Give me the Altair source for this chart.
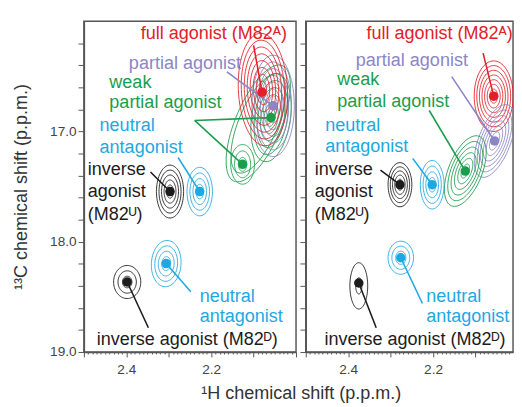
import math
import altair as alt
import pandas as pd

RED = "#e3202a"
PURPLE = "#8b86c6"
GREEN = "#1b9e4b"
CYAN = "#1ea8e2"
BLACK = "#1c1c1c"
FONT = "Liberation Sans"

# ---------------- peak centres (dots): 1H ppm, 13C ppm ----------------
dot_panel = ["A"] * 8 + ["B"] * 7
dot_h = [2.080, 2.054, 2.059, 2.126, 2.227, 2.297, 2.306, 2.398,
         2.057, 2.055, 2.124, 2.202, 2.278, 2.276, 2.375]
dot_c = [16.644, 16.768, 16.874, 17.298, 17.545, 17.545, 18.198, 18.365,
         16.680, 17.086, 17.359, 17.483, 17.483, 18.145, 18.374]
dot_color = [RED, PURPLE, GREEN, GREEN, CYAN, BLACK, CYAN, BLACK,
             RED, PURPLE, GREEN, CYAN, BLACK, CYAN, BLACK]

# ---------------- contour sets (peak shape in ppm) ----------------
ct_panel = ["A"] * 9 + ["B"] * 7
ct_color = [GREEN, GREEN, PURPLE, RED, GREEN, CYAN, BLACK, CYAN, BLACK,
            RED, PURPLE, GREEN, CYAN, BLACK, CYAN, BLACK]
ct_h = [2.089, 2.059, 2.054, 2.078, 2.126, 2.227, 2.297, 2.306, 2.398,
        2.057, 2.055, 2.124, 2.202, 2.278, 2.276, 2.375]
ct_c = [16.927, 16.874, 16.768, 16.620, 17.298, 17.545, 17.545, 18.198, 18.365,
        16.680, 17.086, 17.359, 17.483, 17.483, 18.145, 18.400]
ct_levels = [2, 6, 7, 8, 3, 4, 5, 4, 3,
             7, 6, 6, 4, 5, 3, 2]
ct_half_h = [0.058, 0.046, 0.050, 0.058, 0.028, 0.030, 0.032, 0.035, 0.032,
             0.046, 0.040, 0.042, 0.028, 0.028, 0.030, 0.021]
ct_half_c = [0.53, 0.40, 0.46, 0.51, 0.18, 0.22, 0.24, 0.21, 0.15,
             0.32, 0.33, 0.32, 0.22, 0.20, 0.15, 0.21]
ct_tilt = [0.092, 0.03, 0.0, -0.01, 0.0, 0.0, 0.0, 0.01, 0.0,
           0.0, 0.08, 0.08, 0.0, 0.0, 0.0, 0.0]
ct_inner = [0.85, 0.2, 0.2, 0.15, 0.35, 0.3, 0.25, 0.3, 0.35,
            0.2, 0.25, 0.2, 0.3, 0.25, 0.4, 0.35]

# ---------------- labels ----------------
lab_panel = ["A"] * 12 + ["B"] * 12
lab_text = ["full agonist (M82ᴬ)", "partial agonist", "weak", "partial agonist",
            "neutral", "antagonist", "inverse", "agonist", "(M82ᵁ)",
            "neutral", "antagonist", "inverse agonist (M82ᴰ)"] * 2
lab_h = [2.366, 2.394, 2.440, 2.440, 2.463, 2.463, 2.491, 2.491, 2.491, 2.227, 2.227, 2.470,
         2.357, 2.382, 2.426, 2.426, 2.454, 2.454, 2.479, 2.479, 2.479, 2.216, 2.216, 2.456]
lab_c = [16.106, 16.380, 16.550, 16.730, 16.944, 17.139, 17.342, 17.545, 17.748, 18.489, 18.674, 18.886,
         16.106, 16.353, 16.530, 16.724, 16.944, 17.130, 17.342, 17.545, 17.748, 18.489, 18.674, 18.886]
lab_color = [RED, PURPLE, GREEN, GREEN, CYAN, CYAN, BLACK, BLACK, BLACK, CYAN, CYAN, BLACK] * 2

# ---------------- leader lines: start point -> dot index ----------------
lead_panel = ["A"] * 8 + ["B"] * 7
lead_h = [2.100, 2.163, 2.239, 2.239, 2.278, 2.343, 2.248, 2.348,
          2.082, 2.156, 2.209, 2.248, 2.324, 2.225, 2.334]
lead_c = [16.22, 16.459, 16.90, 16.90, 17.236, 17.368, 18.454, 18.78,
          16.29, 16.503, 16.81, 17.244, 17.35, 18.56, 18.78]
lead_to = [0, 1, 2, 3, 4, 5, 6, 7,
           8, 9, 10, 11, 12, 13, 14]

x_ticks = [round(2.0 + 0.01 * i, 2) for i in range(51)]
y_ticks = [round(16.2 + 0.2 * i, 1) for i in range(15)]

# ---------------- build tables ----------------
rows = []
for k in range(len(ct_panel)):
    n = ct_levels[k]
    for lev in range(n):
        s = 1.0 if n == 1 else ct_inner[k] + (1 - ct_inner[k]) * lev / (n - 1)
        for j in range(73):
            t = 2 * math.pi * j / 72
            dc = ct_half_c[k] * s * math.sin(t)
            dh = ct_half_h[k] * s * math.cos(t) + ct_tilt[k] * dc
            rows.append(dict(panel=ct_panel[k], ring=f"{k}_{lev}", i=j,
                             h=ct_h[k] + dh, c=ct_c[k] + dc, col=ct_color[k]))
contours = pd.DataFrame(rows)
dots = pd.DataFrame(dict(panel=dot_panel, h=dot_h, c=dot_c, col=dot_color))
labels = pd.DataFrame(dict(panel=lab_panel, text=lab_text, h=lab_h, c=lab_c, col=lab_color))
leads = pd.DataFrame(dict(panel=lead_panel, h=lead_h, c=lead_c,
                          h2=[dot_h[i] for i in lead_to], c2=[dot_c[i] for i in lead_to],
                          col=[dot_color[i] for i in lead_to]))

x_label_expr = ("(abs(datum.value-2.4)<1e-6 || abs(datum.value-2.2)<1e-6) ? "
                "format(datum.value, '.1f') : ''")
y_label_expr = "abs(datum.value - round(datum.value)) < 1e-6 ? format(datum.value, '.1f') : ''"


def panel(name, width, xdom, show_y_labels):
    xs = alt.Scale(domain=xdom, reverse=True, nice=False, zero=False)
    ys = alt.Scale(domain=[16.0, 19.0], reverse=True, nice=False, zero=False)
    xaxis = alt.Axis(values=x_ticks, labelExpr=x_label_expr, title=None,
                     tickSize={"condition": {"test": "abs(datum.value*10 - round(datum.value*10)) < 1e-6",
                                             "value": 5}, "value": 2},
                     labelOverlap=False, labelFlush=False, labelPadding=6,
                     labelFontSize=14, labelFont=FONT, labelColor="#444",
                     domainColor="#555", tickColor="#555", domainWidth=1.5, grid=False)
    if show_y_labels:
        yaxis = alt.Axis(values=y_ticks, labelExpr=y_label_expr,
                         title="¹³C chemical shift (p.p.m.)", titleFontSize=18.5,
                         titleFont=FONT, titleFontWeight="normal", titleColor="#333",
                         titlePadding=20, tickSize=6, labelPadding=2, labelOverlap=False,
                         labelFontSize=14, labelFont=FONT, labelColor="#444",
                         domainColor="#555", tickColor="#555", domainWidth=1.5, grid=False)
    else:
        yaxis = alt.Axis(values=y_ticks, labels=False, title=None, tickSize=6,
                         domainColor="#555", tickColor="#555", domainWidth=1.5,
                         grid=False, minExtent=0)
    X = alt.X("h:Q", scale=xs, axis=xaxis)
    Y = alt.Y("c:Q", scale=ys, axis=yaxis)
    col = alt.Color("col:N", scale=None)

    ring = alt.Chart(contours[contours.panel == name]).mark_line(
        clip=True, strokeWidth=1.0, opacity=0.9).encode(
        x=X, y=Y, color=col, detail="ring:N", order="i:Q")
    lead = alt.Chart(leads[leads.panel == name]).mark_rule(
        clip=True, strokeWidth=1.6).encode(x=X, y=Y, x2="h2:Q", y2="c2:Q", color=col)
    dot = alt.Chart(dots[dots.panel == name]).mark_circle(
        clip=True, size=95, opacity=1).encode(x=X, y=Y, color=col)
    text = alt.Chart(labels[labels.panel == name]).mark_text(
        clip=True, align="left", baseline="middle", fontSize=18.5, font=FONT).encode(
        x=X, y=Y, text="text:N", color=col)
    return alt.layer(ring, lead, dot, text).properties(width=width, height=340)


left = panel("A", 218, [2.0, 2.5], True)
right = panel("B", 213, [2.5 - 213 / 436, 2.5], False)

chart = alt.hconcat(left, right, spacing=0).properties(
    title=alt.TitleParams("¹H chemical shift (p.p.m.)", orient="bottom", anchor="middle",
                          fontSize=18.5, font=FONT, fontWeight="normal", color="#333",
                          offset=8, dx=40),
    padding={"left": 3, "top": 7, "right": 0, "bottom": 0},
).configure_view(stroke="#555", strokeWidth=1.5)

chart.save("out.html", embed_options={"renderer": "svg", "actions": False})
